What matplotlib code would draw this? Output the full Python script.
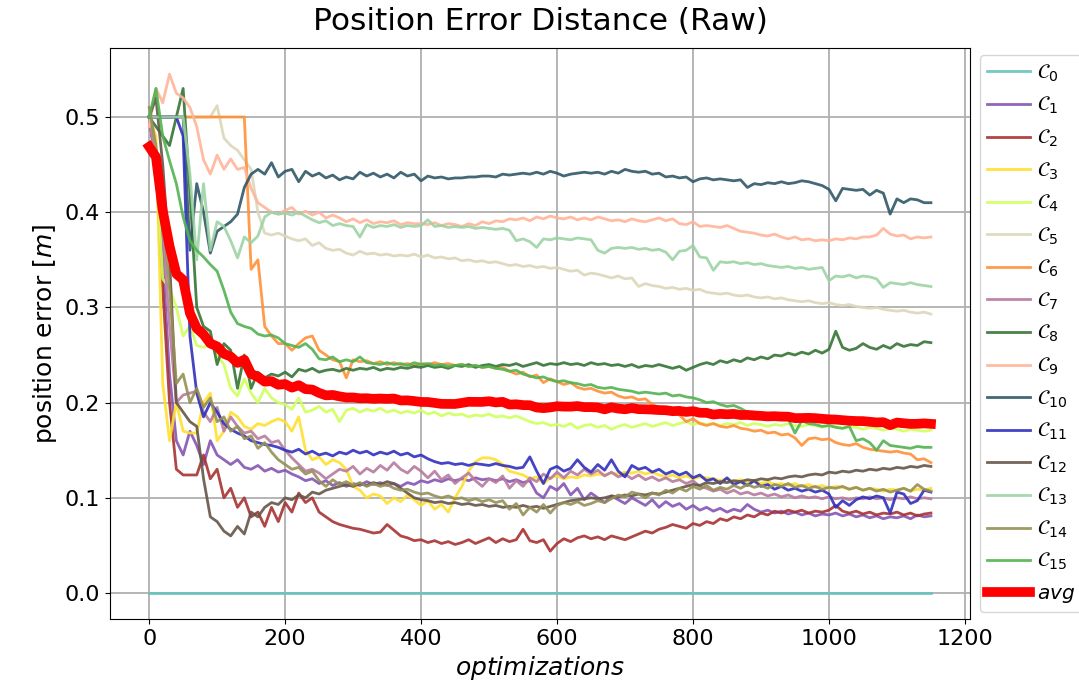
import numpy as np
import matplotlib
matplotlib.use("Agg")
import matplotlib.pyplot as plt

# optimization step at which each sample was taken
steps = np.arange(0, 1151, 10)

c0 = [0.0] * len(steps)
c1 = [0.50, 0.45, 0.35, 0.23, 0.16, 0.145, 0.17, 0.155, 0.135, 0.16,
      0.145, 0.14, 0.135, 0.14, 0.132, 0.13, 0.134, 0.128, 0.131, 0.127,
      0.129, 0.125, 0.122, 0.118, 0.12, 0.115, 0.118, 0.113, 0.116, 0.112,
      0.115, 0.113, 0.117, 0.114, 0.116, 0.113, 0.115, 0.112, 0.116, 0.114,
      0.118, 0.116, 0.119, 0.117, 0.12, 0.118, 0.12, 0.118, 0.121, 0.119,
      0.12, 0.118, 0.12, 0.117, 0.119, 0.116, 0.118, 0.105, 0.1, 0.112,
      0.108, 0.115, 0.103, 0.11, 0.098, 0.105, 0.1, 0.095, 0.102, 0.098,
      0.094, 0.1, 0.096, 0.092, 0.098, 0.09, 0.096, 0.091, 0.094, 0.088,
      0.092, 0.087, 0.09, 0.086, 0.089, 0.085, 0.088, 0.086, 0.093, 0.088,
      0.085, 0.087, 0.084, 0.086, 0.083, 0.085, 0.082, 0.084, 0.081, 0.083,
      0.082, 0.084, 0.081, 0.083, 0.08, 0.082, 0.079, 0.081, 0.078, 0.08,
      0.079, 0.081, 0.078, 0.082, 0.08, 0.081]
c2 = [0.5, 0.45, 0.32, 0.2, 0.13, 0.124, 0.124, 0.124, 0.145, 0.12,
      0.13, 0.1, 0.11, 0.09, 0.1, 0.08, 0.085, 0.07, 0.09, 0.075,
      0.095, 0.085, 0.105, 0.095, 0.1, 0.085, 0.08, 0.075, 0.072, 0.07,
      0.068, 0.067, 0.065, 0.063, 0.064, 0.072, 0.066, 0.06, 0.058, 0.055,
      0.056, 0.053, 0.055, 0.052, 0.054, 0.051, 0.053, 0.056, 0.052, 0.055,
      0.058, 0.053, 0.057, 0.054, 0.056, 0.067, 0.055, 0.053, 0.056, 0.044,
      0.052, 0.057, 0.054, 0.058, 0.06, 0.057, 0.059, 0.056, 0.06, 0.058,
      0.056, 0.059, 0.062, 0.065, 0.063, 0.067, 0.069, 0.072, 0.07, 0.068,
      0.073, 0.071, 0.075, 0.073, 0.078, 0.076, 0.08, 0.078, 0.082, 0.08,
      0.084, 0.082, 0.086, 0.084, 0.087, 0.085, 0.087, 0.084, 0.086, 0.085,
      0.087, 0.092, 0.086, 0.084, 0.086, 0.083, 0.085, 0.082, 0.084, 0.083,
      0.085, 0.082, 0.084, 0.081, 0.083, 0.084]
c3 = [0.5, 0.48, 0.22, 0.16, 0.2, 0.17, 0.168, 0.168, 0.2, 0.21,
      0.16, 0.17, 0.19, 0.185, 0.175, 0.172, 0.178, 0.176, 0.18, 0.183,
      0.18, 0.17, 0.185, 0.15, 0.14, 0.143, 0.135, 0.14, 0.137, 0.13,
      0.112, 0.108, 0.1, 0.104, 0.102, 0.094, 0.1, 0.096, 0.103, 0.098,
      0.092, 0.097, 0.088, 0.093, 0.085, 0.1, 0.112, 0.128, 0.138, 0.142,
      0.142, 0.14, 0.135, 0.128, 0.126, 0.124, 0.12, 0.122, 0.115, 0.121,
      0.123, 0.12, 0.122, 0.121, 0.124, 0.123, 0.125, 0.124, 0.126, 0.125,
      0.127, 0.126, 0.128, 0.125, 0.127, 0.124, 0.122, 0.124, 0.121, 0.123,
      0.12, 0.122, 0.121, 0.12, 0.118, 0.12, 0.117, 0.119, 0.116, 0.118,
      0.115, 0.117, 0.114, 0.115, 0.113, 0.115, 0.112, 0.114, 0.111, 0.113,
      0.11, 0.112, 0.111, 0.109, 0.111, 0.108, 0.11, 0.109, 0.107, 0.109,
      0.108, 0.11, 0.107, 0.109, 0.108, 0.11]
c4 = [0.5, 0.46, 0.33, 0.32, 0.3, 0.27, 0.28, 0.26, 0.258, 0.262,
      0.25, 0.24, 0.215, 0.207, 0.225, 0.21, 0.2, 0.215, 0.205, 0.2,
      0.198, 0.193, 0.205, 0.19, 0.192, 0.196, 0.19, 0.193, 0.18, 0.192,
      0.194, 0.19, 0.193, 0.191, 0.194, 0.19, 0.192, 0.189, 0.191, 0.189,
      0.192, 0.188, 0.19, 0.186, 0.189, 0.187, 0.188, 0.185, 0.187, 0.186,
      0.188, 0.185, 0.186, 0.184, 0.186, 0.183, 0.18, 0.178, 0.179, 0.176,
      0.177, 0.175, 0.178, 0.173, 0.176, 0.177, 0.174, 0.176, 0.172, 0.175,
      0.177, 0.174, 0.176, 0.178, 0.175, 0.177, 0.179, 0.176, 0.178, 0.18,
      0.177, 0.179, 0.177, 0.178, 0.176, 0.178, 0.177, 0.179, 0.176, 0.178,
      0.177, 0.175, 0.177, 0.176, 0.178, 0.176, 0.175, 0.177, 0.176, 0.174,
      0.176, 0.175, 0.173, 0.175, 0.174, 0.172, 0.174, 0.173, 0.171, 0.173,
      0.172, 0.17, 0.172, 0.171, 0.17, 0.171]
c5 = [0.5, 0.5, 0.5, 0.5, 0.5, 0.5, 0.5, 0.5, 0.5, 0.5,
      0.512, 0.478, 0.47, 0.465, 0.455, 0.445, 0.4, 0.378, 0.376, 0.378,
      0.375, 0.372, 0.37, 0.372, 0.365, 0.368, 0.362, 0.36, 0.361, 0.357,
      0.355, 0.359, 0.356, 0.357, 0.355, 0.356, 0.354, 0.355, 0.354, 0.356,
      0.353, 0.355, 0.352, 0.353, 0.351, 0.352, 0.349, 0.35, 0.348, 0.349,
      0.347, 0.348, 0.346, 0.344, 0.345, 0.343, 0.344, 0.342, 0.343, 0.341,
      0.342, 0.34, 0.338, 0.339, 0.334, 0.336, 0.335, 0.333, 0.331, 0.333,
      0.33, 0.331, 0.322, 0.325, 0.323, 0.322, 0.32, 0.321, 0.319, 0.32,
      0.318, 0.319, 0.316, 0.315, 0.314, 0.315, 0.313, 0.312, 0.313, 0.311,
      0.31, 0.311, 0.309, 0.31, 0.308, 0.307, 0.306, 0.307, 0.305, 0.304,
      0.305, 0.303, 0.302, 0.303, 0.301, 0.3, 0.299, 0.3, 0.298, 0.297,
      0.296, 0.297, 0.295, 0.294, 0.295, 0.293]
c6 = [0.5, 0.5, 0.5, 0.5, 0.5, 0.5, 0.5, 0.5, 0.5, 0.5,
      0.5, 0.5, 0.5, 0.5, 0.5, 0.34, 0.35, 0.28, 0.27, 0.262,
      0.262, 0.255, 0.262, 0.268, 0.27, 0.255, 0.25, 0.245, 0.243, 0.226,
      0.245, 0.243, 0.244, 0.241, 0.243, 0.24, 0.242, 0.24, 0.241, 0.239,
      0.241, 0.24, 0.242, 0.24, 0.241, 0.239, 0.24, 0.238, 0.239, 0.237,
      0.238, 0.236, 0.237, 0.233, 0.23, 0.232, 0.227, 0.229, 0.221, 0.225,
      0.222, 0.219, 0.221, 0.216, 0.214, 0.215, 0.212, 0.21, 0.211, 0.207,
      0.205, 0.206, 0.203, 0.204, 0.198, 0.195, 0.192, 0.19, 0.187, 0.18,
      0.183, 0.178, 0.176, 0.178, 0.175, 0.174, 0.176, 0.173, 0.172, 0.17,
      0.171, 0.168, 0.169, 0.166, 0.167, 0.163, 0.155, 0.162, 0.163, 0.161,
      0.162, 0.158, 0.156, 0.155, 0.157, 0.153, 0.151, 0.15, 0.149, 0.148,
      0.149, 0.147, 0.146, 0.14, 0.141, 0.137]
c7 = [0.5, 0.45, 0.38, 0.28, 0.2, 0.208, 0.21, 0.212, 0.19, 0.18,
      0.195, 0.17, 0.185, 0.175, 0.168, 0.17, 0.162, 0.165, 0.158, 0.16,
      0.15, 0.142, 0.135, 0.128, 0.13, 0.126, 0.12, 0.125, 0.13, 0.128,
      0.133, 0.125, 0.131, 0.127, 0.134, 0.129, 0.137, 0.13, 0.126, 0.133,
      0.128, 0.121, 0.128, 0.119, 0.124, 0.115, 0.121, 0.126, 0.118, 0.112,
      0.12, 0.116, 0.123, 0.11, 0.118, 0.112, 0.121, 0.117, 0.125, 0.12,
      0.127, 0.121, 0.128, 0.124, 0.13, 0.125, 0.129, 0.123, 0.127, 0.122,
      0.125, 0.12, 0.124, 0.119, 0.122, 0.118, 0.121, 0.117, 0.119, 0.115,
      0.118, 0.112, 0.11, 0.107, 0.109, 0.105, 0.108, 0.104, 0.106, 0.103,
      0.105, 0.102, 0.104, 0.101, 0.103, 0.1, 0.102, 0.1, 0.101, 0.099,
      0.101, 0.099, 0.1, 0.098, 0.1, 0.099, 0.101, 0.099, 0.1, 0.098,
      0.1, 0.099, 0.101, 0.099, 0.1, 0.099]
c8 = [0.5, 0.49, 0.48, 0.47, 0.5, 0.53, 0.42, 0.3, 0.28, 0.275,
      0.24, 0.262, 0.255, 0.215, 0.25, 0.215, 0.232, 0.226, 0.23, 0.228,
      0.232, 0.227, 0.235, 0.233, 0.236, 0.232, 0.234, 0.235, 0.233, 0.236,
      0.234, 0.236, 0.235, 0.237, 0.234, 0.236, 0.235, 0.237, 0.236, 0.238,
      0.237, 0.239, 0.237, 0.238, 0.236, 0.239, 0.238, 0.24, 0.237, 0.239,
      0.24, 0.238, 0.24, 0.239, 0.241, 0.238, 0.24, 0.242, 0.239, 0.241,
      0.24, 0.242, 0.24, 0.241, 0.239, 0.242, 0.24, 0.241, 0.239, 0.24,
      0.238, 0.24, 0.237, 0.239, 0.238, 0.24, 0.238, 0.236, 0.238, 0.234,
      0.237, 0.24, 0.242, 0.24, 0.244, 0.242, 0.245, 0.243, 0.247, 0.245,
      0.248, 0.246, 0.25, 0.249, 0.252, 0.25, 0.253, 0.251, 0.255, 0.252,
      0.256, 0.275, 0.258, 0.255, 0.257, 0.262, 0.258, 0.256, 0.26, 0.257,
      0.262, 0.259, 0.261, 0.26, 0.264, 0.263]
c9 = [0.49, 0.53, 0.515, 0.545, 0.525, 0.52, 0.51, 0.49, 0.455, 0.44,
      0.46, 0.445, 0.456, 0.445, 0.447, 0.425, 0.41, 0.405, 0.4, 0.398,
      0.402, 0.405, 0.398, 0.401, 0.397, 0.4, 0.394, 0.397, 0.394, 0.39,
      0.393, 0.389, 0.392, 0.388, 0.39, 0.389, 0.391, 0.387, 0.389, 0.388,
      0.388, 0.387, 0.389, 0.386, 0.388, 0.387, 0.385, 0.388, 0.386, 0.39,
      0.388, 0.391, 0.39, 0.393, 0.392, 0.394, 0.391, 0.395, 0.393, 0.396,
      0.394, 0.393, 0.395, 0.392, 0.394, 0.392, 0.395, 0.393, 0.391, 0.392,
      0.39, 0.393, 0.391, 0.39, 0.392, 0.394, 0.391, 0.393, 0.388, 0.387,
      0.39, 0.385, 0.386, 0.385, 0.384, 0.386, 0.383, 0.38, 0.379, 0.378,
      0.376, 0.375, 0.377, 0.374, 0.372, 0.374, 0.371, 0.372, 0.37, 0.371,
      0.37, 0.372, 0.371, 0.373, 0.372, 0.374, 0.374, 0.376, 0.383, 0.377,
      0.375, 0.376, 0.372, 0.374, 0.373, 0.374]
c10 = [0.5, 0.5, 0.5, 0.5, 0.5, 0.5, 0.36, 0.43, 0.4, 0.357,
       0.38, 0.385, 0.39, 0.398, 0.426, 0.44, 0.445, 0.44, 0.452, 0.437,
       0.443, 0.445, 0.432, 0.443, 0.438, 0.441, 0.436, 0.439, 0.434, 0.437,
       0.435, 0.442, 0.438, 0.441, 0.437, 0.44, 0.436, 0.442, 0.438, 0.44,
       0.433, 0.438, 0.436, 0.437, 0.435, 0.436, 0.436, 0.437, 0.437, 0.438,
       0.438, 0.437, 0.44, 0.439, 0.44, 0.441, 0.44, 0.442, 0.44, 0.443,
       0.441, 0.438, 0.44, 0.441, 0.442, 0.441, 0.442, 0.44, 0.443, 0.441,
       0.445, 0.443, 0.442, 0.443, 0.44, 0.441, 0.437, 0.438, 0.436, 0.437,
       0.432, 0.435, 0.436, 0.434, 0.435, 0.434, 0.433, 0.434, 0.426, 0.43,
       0.429, 0.431, 0.43, 0.432, 0.43, 0.431, 0.433, 0.432, 0.43, 0.428,
       0.424, 0.412, 0.425, 0.424, 0.423, 0.424, 0.418, 0.423, 0.42, 0.398,
       0.414, 0.41, 0.414, 0.413, 0.41, 0.41]
c11 = [0.5, 0.5, 0.5, 0.5, 0.5, 0.48, 0.27, 0.21, 0.185, 0.2,
       0.19, 0.178, 0.172, 0.168, 0.165, 0.16, 0.158, 0.156, 0.155, 0.153,
       0.15, 0.148, 0.151, 0.146, 0.149, 0.145, 0.147, 0.144, 0.148, 0.146,
       0.15, 0.147, 0.149, 0.145, 0.148, 0.146, 0.149, 0.145, 0.147, 0.143,
       0.145, 0.141, 0.138, 0.136, 0.137, 0.135, 0.136, 0.134, 0.136, 0.135,
       0.134, 0.136, 0.134, 0.133, 0.131, 0.132, 0.143, 0.128, 0.115, 0.13,
       0.133, 0.128, 0.131, 0.14, 0.132, 0.127, 0.135, 0.129, 0.14, 0.128,
       0.122, 0.134, 0.13, 0.132, 0.127, 0.13, 0.125, 0.128, 0.124, 0.127,
       0.121, 0.124, 0.118, 0.12, 0.115, 0.121, 0.114, 0.117, 0.113, 0.118,
       0.112, 0.114, 0.109, 0.112, 0.108, 0.11, 0.107, 0.109, 0.106, 0.108,
       0.104, 0.09, 0.097, 0.092, 0.098, 0.101, 0.099, 0.102, 0.1, 0.084,
       0.106, 0.104, 0.094, 0.097, 0.108, 0.106]
c12 = [0.5, 0.52, 0.45, 0.35, 0.2, 0.19, 0.18, 0.175, 0.12, 0.08,
       0.075, 0.065, 0.06, 0.07, 0.062, 0.085, 0.08, 0.09, 0.095, 0.093,
       0.1, 0.098, 0.103, 0.1, 0.106, 0.104, 0.108, 0.11, 0.112, 0.114,
       0.112, 0.115, 0.113, 0.116, 0.114, 0.117, 0.115, 0.11, 0.105, 0.1,
       0.098, 0.097, 0.095, 0.096, 0.094, 0.095, 0.093, 0.094, 0.092, 0.093,
       0.091, 0.092, 0.09, 0.091, 0.09, 0.092, 0.09, 0.091, 0.089, 0.091,
       0.093, 0.095, 0.097, 0.098, 0.099, 0.1, 0.099, 0.1, 0.102, 0.101,
       0.103, 0.102, 0.104, 0.103, 0.105, 0.104, 0.106, 0.108, 0.11, 0.112,
       0.114, 0.113, 0.116, 0.115, 0.117, 0.116, 0.118, 0.117, 0.119, 0.118,
       0.12, 0.119, 0.121, 0.12, 0.122, 0.123, 0.122, 0.124, 0.125, 0.124,
       0.127, 0.126, 0.128, 0.127, 0.129, 0.128, 0.13, 0.129, 0.131, 0.13,
       0.132, 0.131, 0.133, 0.132, 0.134, 0.133]
c13 = [0.5, 0.5, 0.5, 0.5, 0.5, 0.5, 0.44, 0.35, 0.43, 0.36,
       0.39, 0.385, 0.37, 0.352, 0.374, 0.368, 0.375, 0.395, 0.4, 0.398,
       0.399, 0.397, 0.4, 0.396, 0.392, 0.389, 0.391, 0.386, 0.388, 0.386,
       0.385, 0.374, 0.387, 0.384, 0.386, 0.385, 0.387, 0.384, 0.386, 0.385,
       0.386, 0.392, 0.385, 0.386, 0.384, 0.385, 0.384, 0.385, 0.383, 0.384,
       0.383, 0.382, 0.383, 0.381, 0.37, 0.372, 0.369, 0.363, 0.372, 0.371,
       0.373, 0.372, 0.371, 0.373, 0.372, 0.371, 0.36, 0.357, 0.362, 0.363,
       0.362, 0.363, 0.361, 0.362, 0.36, 0.361, 0.358, 0.35, 0.359, 0.36,
       0.365, 0.353, 0.352, 0.339, 0.348, 0.347, 0.348, 0.346, 0.347, 0.345,
       0.346, 0.344, 0.343, 0.342, 0.343, 0.341, 0.342, 0.34, 0.341, 0.342,
       0.328, 0.333, 0.332, 0.334, 0.331, 0.333, 0.332, 0.33, 0.321, 0.326,
       0.325, 0.324, 0.326, 0.324, 0.323, 0.322]
c14 = [0.51, 0.47, 0.4, 0.32, 0.22, 0.23, 0.2, 0.215, 0.195, 0.205,
       0.18, 0.185, 0.17, 0.175, 0.162, 0.165, 0.152, 0.158, 0.148, 0.14,
       0.135, 0.13, 0.132, 0.125, 0.128, 0.118, 0.112, 0.119, 0.114, 0.117,
       0.113, 0.116, 0.112, 0.115, 0.112, 0.114, 0.11, 0.108, 0.109, 0.106,
       0.104, 0.105, 0.102, 0.1, 0.102, 0.099, 0.1, 0.097, 0.099, 0.096,
       0.098, 0.095, 0.097, 0.088, 0.094, 0.082, 0.09, 0.085, 0.093, 0.084,
       0.092, 0.095, 0.093, 0.096, 0.092, 0.094, 0.097, 0.095, 0.099, 0.103,
       0.101, 0.106, 0.104, 0.1, 0.105, 0.103, 0.108, 0.105, 0.11, 0.107,
       0.112, 0.109, 0.113, 0.108, 0.111, 0.109, 0.113, 0.11, 0.114, 0.111,
       0.113, 0.11, 0.114, 0.112, 0.115, 0.111, 0.113, 0.11, 0.112, 0.109,
       0.111, 0.11, 0.112, 0.109, 0.111, 0.108, 0.11, 0.107, 0.109, 0.106,
       0.108, 0.11, 0.107, 0.114, 0.109, 0.107]
c15 = [0.5, 0.53, 0.48, 0.454, 0.43, 0.395, 0.37, 0.36, 0.353, 0.345,
       0.338, 0.318, 0.295, 0.283, 0.28, 0.278, 0.272, 0.27, 0.271, 0.268,
       0.262, 0.26, 0.258, 0.262, 0.256, 0.246, 0.245, 0.248, 0.243, 0.245,
       0.243, 0.248, 0.242, 0.241, 0.24, 0.242, 0.24, 0.241, 0.239, 0.242,
       0.24, 0.241, 0.239, 0.24, 0.238, 0.239, 0.24, 0.238, 0.239, 0.237,
       0.238, 0.236, 0.235, 0.233, 0.234, 0.23, 0.228, 0.226, 0.227, 0.224,
       0.222, 0.223, 0.221, 0.22, 0.218, 0.219, 0.216, 0.215, 0.216, 0.214,
       0.213, 0.212, 0.21, 0.211, 0.21, 0.209, 0.21, 0.207, 0.208, 0.206,
       0.205, 0.203, 0.2, 0.201, 0.198, 0.196, 0.197, 0.194, 0.19, 0.19,
       0.186, 0.187, 0.185, 0.186, 0.183, 0.168, 0.181, 0.178, 0.177, 0.175,
       0.176, 0.174, 0.173, 0.175, 0.16, 0.162, 0.158, 0.15, 0.16, 0.155,
       0.154, 0.153, 0.152, 0.154, 0.153, 0.153]

curves = [c0, c1, c2, c3, c4, c5, c6, c7, c8, c9, c10, c11, c12, c13, c14, c15]
colors = ['#66c2be', '#8554b3', '#a83232', '#ffdf2e', '#d0ff5e', '#dcd7ba',
          '#ff9138', '#b87a9e', '#357535', '#ffb49a', '#2f5766', '#2f2fbf',
          '#655648', '#9dd3a4', '#958f55', '#52b352']

# mean over all trajectories
avg = np.mean(np.array(curves), axis=0)

fig = plt.figure(figsize=(10.79, 6.99), dpi=100)
ax = fig.add_axes([0.102, 0.1145, 0.797, 0.8165])

for i, (vals, col) in enumerate(zip(curves, colors)):
    ax.plot(steps, vals, color=col, lw=2, alpha=0.9,
            label=r'$\mathcal{C}_{%d}$' % i)
ax.plot(steps, avg, color='red', lw=7, label=r'$avg$', zorder=5)

ax.grid(True, color='#b0b0b0', lw=1.3)
ax.set_axisbelow(True)
ax.set_xticks([0, 200, 400, 600, 800, 1000, 1200])
ax.set_yticks([0.0, 0.1, 0.2, 0.3, 0.4, 0.5])
ax.tick_params(labelsize=16)
ax.set_title('Position Error Distance (Raw)', fontsize=22.5, pad=13)
ax.set_xlabel(r'$optimizations$', fontsize=18)
ax.set_ylabel(r'position error [$m$]', fontsize=18)

ax.legend(loc='center left', bbox_to_anchor=(1.0, 0.5), fontsize=14.5,
          handlelength=2.15, handletextpad=0.35, borderpad=0.35,
          borderaxespad=0.5, labelspacing=0.56)

fig.savefig('out.png', dpi=100)
